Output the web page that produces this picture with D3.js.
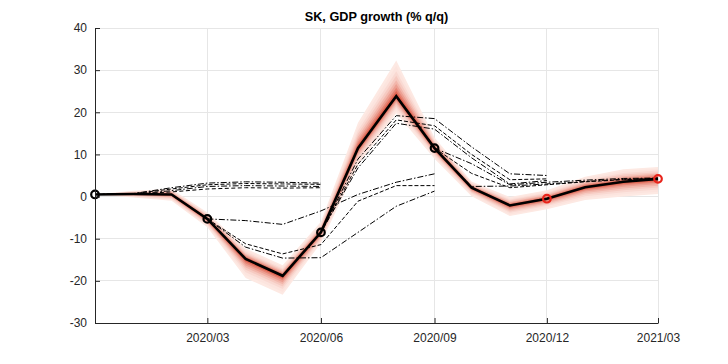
<!DOCTYPE html>
<html><head><meta charset="utf-8">
<script src="https://cdn.jsdelivr.net/npm/d3@7/dist/d3.min.js"></script>
<style>
html,body{margin:0;padding:0;background:#fff;}
text{font-family:"Liberation Sans",Arial,Helvetica,sans-serif;}
</style></head>
<body><svg id="c" width="728" height="364"></svg>
<script>
// ---- data ----
const months = ["2019-12","2020-01","2020-02","2020-03","2020-04","2020-05","2020-06","2020-07","2020-08","2020-09","2020-10","2020-11","2020-12","2021-01","2021-02","2021-03"];
const mainVals = [0.5,0.6,0.5,-5.3,-14.8,-18.8,-8.5,11.5,23.8,11.5,2.1,-2.1,-0.5,2.2,3.5,4.2];
const fanUp   = [0,0.8,1.3,1.5,2.5,2.5,2.5,6.0,8.5,2.5,1.5,2.0,2.0,2.5,3.0,2.8];
const fanDown = [0,0.8,1.5,2.0,4.5,4.5,2.5,4.0,4.0,2.5,2.0,2.5,2.5,3.0,3.5,3.6];
const blackMarkers = [0,3,6,9];
const redMarkers = [12,15];
// previous forecast vintages: start month index, values
const vintageA = {start:0, lines:[
  [0.5,0.7,2.1,3.2,3.5,3.4,3.2],
  [0.5,0.7,1.8,2.8,3.1,3.0,2.9],
  [0.5,0.6,1.4,2.4,2.6,2.5,2.4],
  [0.5,0.6,1.1,1.8,2.1,2.0,2.1]]};
const vintageB = {start:3, lines:[
  [-5.3,-5.7,-6.6,-3.4,0.5,3.4,5.4],
  [-5.3,-11.2,-13.6,-11.4,-1.1,2.6,2.6],
  [-5.3,-12.0,-14.6,-14.5,-8.5,-2.3,1.3]]};
const vintageC = {start:6, lines:[
  [-8.5,8.9,19.2,18.5,11.8,5.4,5.0],
  [-8.5,7.7,18.2,16.8,10.0,4.0,4.2],
  [-8.5,6.8,17.4,16.0,9.2,3.0,3.8]]};
const vintageD = {start:9, lines:[
  [11.5,7.8,2.8,3.4,3.9,4.3,4.4],
  [11.5,5.5,2.1,2.8,3.5,4.0,4.3],
  [11.5,2.4,2.5,3.0,3.6,4.1,4.3]]};
const yTicks = [-30,-20,-10,0,10,20,30,40];
const xTickMonths = ["2020-03","2020-06","2020-09","2020-12","2021-03"];
const title = "SK, GDP growth (% q/q)";

// ---- layout ----
const svg = d3.select("#c");
const L=95, R=658, T=28, B=323;
const parse = d3.timeParse("%Y-%m");
const dates = months.map(parse);
const x = d3.scaleTime().domain([dates[0], dates[dates.length-1]]).range([L,R]);
const y = d3.scaleLinear().domain([-30,40]).range([B,T]);
const axisCol = "#262626";

// grid
const g = svg.append("g");
g.selectAll("line.gy").data(yTicks).join("line")
  .attr("x1",L).attr("x2",R).attr("y1",d=>y(d)).attr("y2",d=>y(d))
  .attr("stroke","#e6e6e6").attr("stroke-width",1).attr("shape-rendering","crispEdges");
const xt = xTickMonths.map(parse);
g.selectAll("line.gx").data(xt).join("line")
  .attr("x1",d=>x(d)).attr("x2",d=>x(d)).attr("y1",T).attr("y2",B)
  .attr("stroke","#e6e6e6").attr("stroke-width",1).attr("shape-rendering","crispEdges");

// fan
const fracs = [1,0.85,0.7,0.57,0.45,0.34,0.24,0.15,0.07];
const col = d3.interpolateRgb("#fde9e3","#d8442e");
fracs.forEach((f,i)=>{
  const area = d3.area()
    .x((d,j)=>x(dates[j]))
    .y0((d,j)=>y(mainVals[j]-f*fanDown[j]))
    .y1((d,j)=>y(mainVals[j]+f*fanUp[j]));
  const t = Math.pow(i/(fracs.length-1),1.7);
  svg.append("path").datum(mainVals).attr("d",area)
    .attr("fill",col(t)).attr("stroke","none");
});

// vintages
const styles = ["6,2,1.5,2","4,2","6,2,1.5,2","4,2.5"];
[vintageA,vintageB,vintageC,vintageD].forEach(v=>{
  v.lines.forEach((ln,k)=>{
    const line = d3.line().x((d,j)=>x(dates[v.start+j])).y(d=>y(d));
    svg.append("path").datum(ln).attr("d",line)
      .attr("fill","none").attr("stroke","#000").attr("stroke-width",1)
      .attr("stroke-dasharray",styles[k%styles.length]);
  });
});

// main line
svg.append("path").datum(mainVals)
  .attr("d",d3.line().x((d,j)=>x(dates[j])).y(d=>y(d)))
  .attr("fill","none").attr("stroke","#000").attr("stroke-width",2.6).attr("stroke-linejoin","miter");

// markers
svg.selectAll("circle.bm").data(blackMarkers).join("circle")
  .attr("cx",i=>x(dates[i])).attr("cy",i=>y(mainVals[i])).attr("r",3.8)
  .attr("fill","none").attr("stroke","#000").attr("stroke-width",2.2);
svg.selectAll("circle.rm").data(redMarkers).join("circle")
  .attr("cx",i=>x(dates[i])).attr("cy",i=>y(mainVals[i])).attr("r",3.8)
  .attr("fill","none").attr("stroke","#e8231a").attr("stroke-width",2.2);

// axes
const yAxis = d3.axisLeft(y).tickValues(yTicks).tickFormat(d=>String(d)).tickSizeInner(-5).tickSizeOuter(0).tickPadding(8);
const ya = svg.append("g").attr("transform",`translate(${L},0)`).call(yAxis);
const xAxis = d3.axisBottom(x).tickValues(xt).tickFormat(d3.timeFormat("%Y/%m")).tickSizeInner(-5).tickSizeOuter(0).tickPadding(10);
const xa = svg.append("g").attr("transform",`translate(0,${B})`).call(xAxis);
[ya,xa].forEach(a=>{
  a.select(".domain").attr("stroke",axisCol).attr("stroke-width",1);
  a.selectAll(".tick line").attr("stroke",axisCol);
  a.selectAll(".tick text").attr("fill",axisCol).style("font-size","12px")
   .style("font-family","'Liberation Sans',Arial,sans-serif");
});

// title
svg.append("text").attr("x",(L+R)/2).attr("y",21).attr("text-anchor","middle")
  .style("font-size","12.7px").style("font-weight","bold").attr("fill","#000").text(title);
</script></body></html>
